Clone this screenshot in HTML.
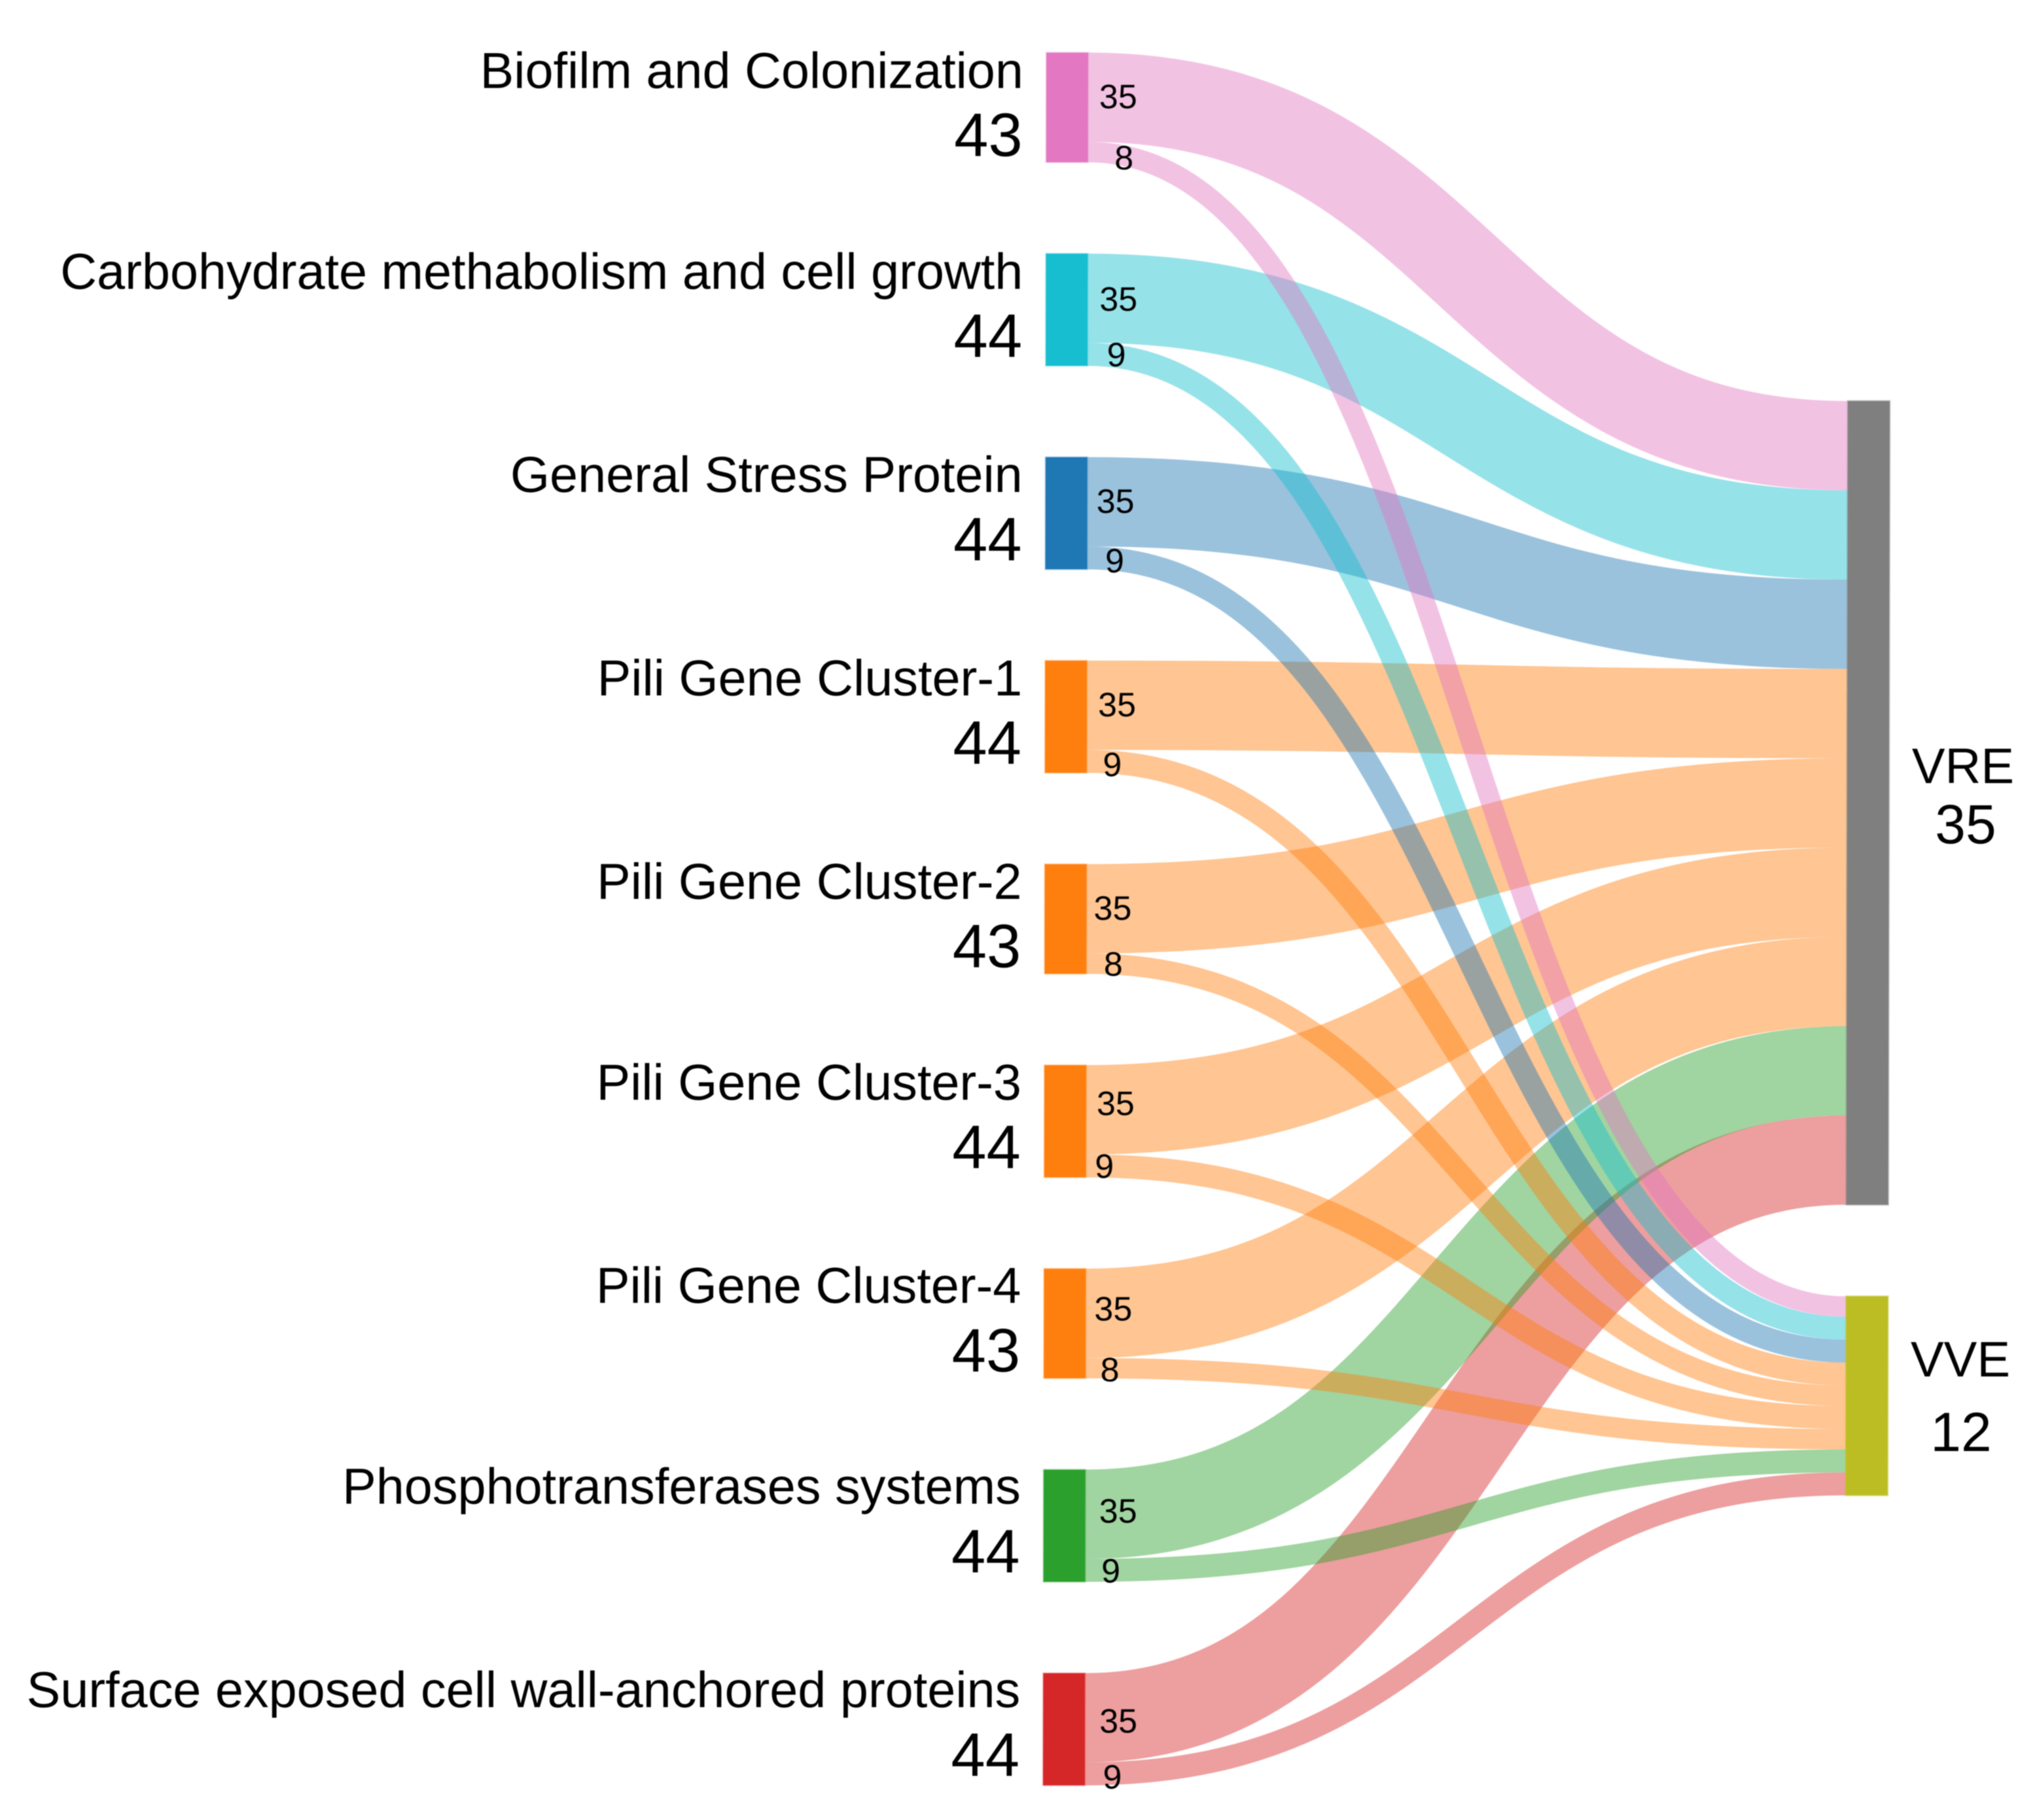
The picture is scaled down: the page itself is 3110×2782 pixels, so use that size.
<!DOCTYPE html>
<html>
<head>
<meta charset="utf-8">
<title>Sankey diagram of gene categories to VRE and VVE</title>
<style>
html,body{margin:0;padding:0;background:#fff;}
#chart{display:block;width:3110px;height:2782px;filter:blur(0.9px);}
text{font-family:"Liberation Sans",sans-serif;fill:#000;}
</style>
</head>
<body>
<svg id="chart" xmlns="http://www.w3.org/2000/svg" width="3110" height="2782" viewBox="0 0 3110 2782"></svg>
<script>
// ---- data ----
const sourceNames = [
  "Biofilm and Colonization",
  "Carbohydrate methabolism and cell growth",
  "General Stress Protein",
  "Pili Gene Cluster-1",
  "Pili Gene Cluster-2",
  "Pili Gene Cluster-3",
  "Pili Gene Cluster-4",
  "Phosphotransferases systems",
  "Surface exposed cell wall-anchored proteins"
];
const vreValues = [35, 35, 35, 35, 35, 35, 35, 35, 35];
const vveValues = [8, 9, 9, 9, 8, 9, 8, 9, 9];
const targetNames = ["VRE", "VVE"];
const vreNodeTotal = [35];
const vveNodeTotal = [12];

// ---- styling ----
const sourceColors = ["#e377c2", "#17becf", "#1f77b4", "#ff7f0e", "#ff7f0e", "#ff7f0e", "#ff7f0e", "#2ca02c", "#d62728"];
const vreColor = "#7f7f7f";
const vveColor = "#bcbd22";

// ---- hand-placed annotation offsets (layout only) ----
const bigLabelNudgeX = [0, 1, -3, 0, -6, -1, -4, 4, 5];
const bigLabelNudgeY = [-1, 1, -1, -1, -1, -10, -7, -5, 5];
const smallLabelNudgeX = [0, -11, -13, -16, -14, -27, -18, -16, -13];
const smallLabelNudgeY = [24, 18, 22, 22, 16, 18, 18, 18, 22];

// ---- axis functions ----
const UNIT = 3.9;
const NODE_GAP = 139.5;
const SOURCE_TOP = 80.4;
const TARGET_TOP = 613;
const SOURCE_X = 1599;
const TARGET_X = 2825;
const NODE_W = 64;
const TILT = -0.0019;
const yLen = v => v * UNIT;
const sum = a => a.reduce((p, c) => p + c, 0);

const svgNS = "http://www.w3.org/2000/svg";
const svg = document.getElementById("chart");
const tilted = document.createElementNS(svgNS, "g");
tilted.setAttribute("transform", "matrix(1 0 " + TILT + " 1 " + (-TILT * 80) + " 0)");


svg.appendChild(tilted);

function mk(tag, attrs, parent) {
  const el = document.createElementNS(svgNS, tag);
  for (const k in attrs) el.setAttribute(k, attrs[k]);
  parent.appendChild(el);
  return el;
}
function linkCenterline(x0, x1, y0, y1) {
  const m = (x0 + x1) / 2;
  return "M" + x0 + " " + y0 + "C" + m + " " + y0 + " " + m + " " + y1 + " " + x1 + " " + y1;
}

const linkLayer = mk("g", {}, tilted);


const nodeLayer = mk("g", {}, tilted);


const labelLayer = mk("g", {}, tilted);



const vreTotalUnits = sum(vreValues);
const vveTotalUnits = sum(vveValues);
const vveTop = TARGET_TOP + yLen(vreTotalUnits) + 140;

let srcY = SOURCE_TOP;
let vreY = TARGET_TOP;
let vveY = vveTop;
const sx1 = SOURCE_X + NODE_W;

sourceNames.forEach((name, i) => {
  const a = yLen(vreValues[i]);
  const b = yLen(vveValues[i]);
  const color = sourceColors[i];

  // earlier sources stack on top of later ones
  const sourceLinks = document.createElementNS(svgNS, "g");
  
  
  linkLayer.insertBefore(sourceLinks, linkLayer.firstChild);

  const l1 = mk("path", {d: linkCenterline(sx1, TARGET_X, srcY + a / 2, vreY + a / 2), fill: "none", stroke: color, "stroke-opacity": 0.45, "stroke-width": a}, sourceLinks);
  
  
  const l2 = mk("path", {d: linkCenterline(sx1, TARGET_X, srcY + a + b / 2, vveY + b / 2), fill: "none", stroke: color, "stroke-opacity": 0.45, "stroke-width": b}, sourceLinks);
  
  

  const n = mk("rect", {x: SOURCE_X, y: srcY, width: NODE_W, height: a + b, fill: color, stroke: color, "stroke-opacity": 0.2, "stroke-width": 3}, nodeLayer);
  
  

  const t1 = mk("text", {x: 1564, y: srcY + 54 - i * 0.25, "text-anchor": "end", "font-size": 77.4}, labelLayer);
  t1.textContent = name;
  
  

  const t2 = mk("text", {x: 1563, y: srcY + 158 - i * 0.12, "text-anchor": "end", "font-size": 94}, labelLayer);
  t2.textContent = vreValues[i] + vveValues[i];
  
  

  const t3 = mk("text", {x: 1709 + bigLabelNudgeX[i], y: srcY + a / 2 + 18 + bigLabelNudgeY[i], "text-anchor": "middle", "font-size": 52}, labelLayer);
  t3.textContent = vreValues[i];
  
  

  const t4 = mk("text", {x: 1718 + smallLabelNudgeX[i], y: srcY + a + smallLabelNudgeY[i] + 18, "text-anchor": "middle", "font-size": 52}, labelLayer);
  t4.textContent = vveValues[i];
  
  

  srcY += a + b + NODE_GAP;
  vreY += a;
  vveY += b;
});

const vreNode = mk("rect", {x: TARGET_X, y: TARGET_TOP, width: NODE_W, height: yLen(vreTotalUnits), fill: vreColor, stroke: vreColor, "stroke-opacity": 0.4, "stroke-width": 3}, nodeLayer);


const vveNode = mk("rect", {x: TARGET_X, y: vveTop, width: NODE_W, height: yLen(vveTotalUnits), fill: vveColor, stroke: vveColor, "stroke-opacity": 0.4, "stroke-width": 3}, nodeLayer);



const vreLabel = mk("text", {x: 3000, y: 1197, "text-anchor": "middle", "font-size": 76}, svg);
vreLabel.textContent = targetNames[0];


const vreCount = mk("text", {x: 3004, y: 1289, "text-anchor": "middle", "font-size": 84}, svg);
vreCount.textContent = vreNodeTotal[0];


const vveLabel = mk("text", {x: 2996, y: 2104, "text-anchor": "middle", "font-size": 76}, svg);
vveLabel.textContent = targetNames[1];


const vveCount = mk("text", {x: 2997, y: 2218, "text-anchor": "middle", "font-size": 84}, svg);
vveCount.textContent = vveNodeTotal[0];


</script>
</body>
</html>
